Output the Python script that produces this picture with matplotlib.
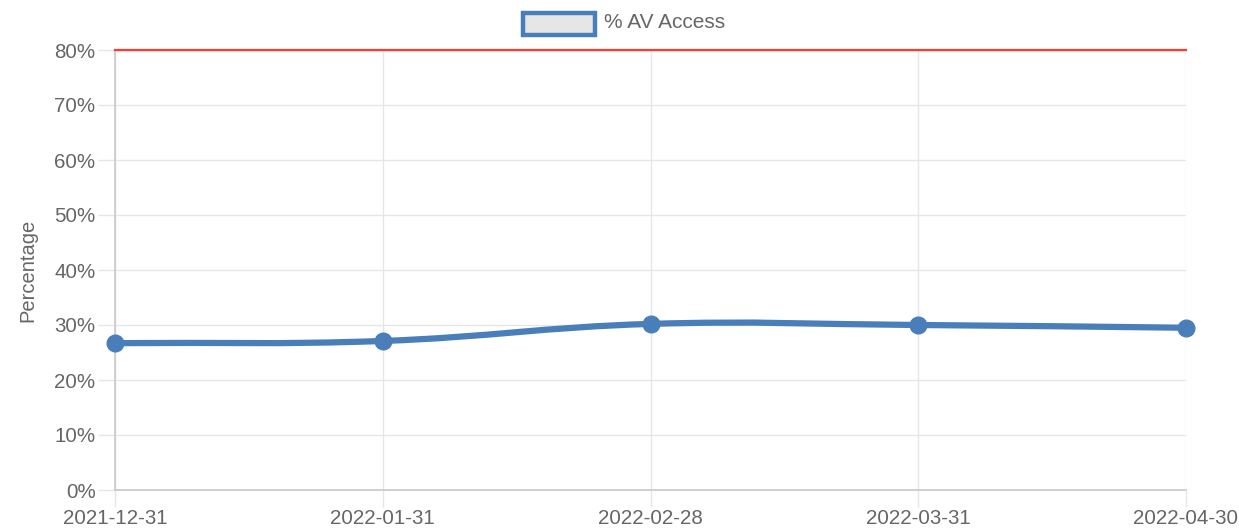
import matplotlib.pyplot as plt
from matplotlib.patches import Rectangle
from matplotlib.path import Path
from matplotlib.patches import PathPatch
import numpy as np

# data
dates = ["2021-12-31", "2022-01-31", "2022-02-28", "2022-03-31", "2022-04-30"]
av_access = [26.7, 27.1, 30.2, 30.0, 29.5]
target = 80
yticks = [0, 10, 20, 30, 40, 50, 60, 70, 80]

blue = "#4a7ebb"
grey_txt = "#666666"

plt.rcParams["font.family"] = ["Liberation Sans", "DejaVu Sans"]

W, H = 1239, 530
fig = plt.figure(figsize=(W / 100, H / 100), dpi=100)
ax = fig.add_axes([115 / W, 1 - 490 / H, (1186 - 115) / W, (490 - 50) / H])

x = np.arange(len(dates))
ax.set_xlim(0, len(dates) - 1)
ax.set_ylim(0, 80)

# smooth line like chart.js (tension 0.4), control points computed in pixel scale
sx = (1186 - 115) / (len(dates) - 1)
sy = (490 - 50) / 80
px = x * sx
py = np.array(av_access) * sy
t = 0.4
cps = []
for i in range(len(px)):
    prev = i - 1 if i > 0 else i
    nxt = i + 1 if i < len(px) - 1 else i
    d01 = np.hypot(px[i] - px[prev], py[i] - py[prev])
    d12 = np.hypot(px[nxt] - px[i], py[nxt] - py[i])
    s01 = d01 / (d01 + d12) if d01 + d12 else 0
    s12 = d12 / (d01 + d12) if d01 + d12 else 0
    dx, dy = px[nxt] - px[prev], py[nxt] - py[prev]
    cps.append(((px[i] - t * s01 * dx, py[i] - t * s01 * dy),
                (px[i] + t * s12 * dx, py[i] + t * s12 * dy)))
verts = [(px[0] / sx, py[0] / sy)]
codes = [Path.MOVETO]
for i in range(1, len(px)):
    a = cps[i - 1][1]
    b = cps[i][0]
    verts += [(a[0] / sx, a[1] / sy), (b[0] / sx, b[1] / sy), (px[i] / sx, py[i] / sy)]
    codes += [Path.CURVE4] * 3
ax.add_patch(PathPatch(Path(verts, codes), facecolor="none", edgecolor=blue,
                       lw=4.5, zorder=3, capstyle="round", joinstyle="round"))
ax.plot(x, av_access, "o", color=blue, markersize=12, zorder=4, clip_on=False)

# target line
ax.axhline(target, color="#ff3b30", lw=1.6, zorder=5, clip_on=False)

# grid and axes
ax.set_yticks(yticks)
ax.set_yticklabels([f"{v}%" for v in yticks])
ax.set_xticks(x)
ax.set_xticklabels(dates)
ax.grid(True, color="#e6e6e6", lw=1)
ax.set_axisbelow(True)
for s in ["top", "right"]:
    ax.spines[s].set_visible(False)
for s in ["left", "bottom"]:
    ax.spines[s].set_color("#c8c8c8")
    ax.spines[s].set_linewidth(1.2)
ax.tick_params(axis="both", colors="#e6e6e6", labelcolor=grey_txt, labelsize=14.8,
               length=12, width=1, pad=2)
ax.set_ylabel("Percentage", color=grey_txt, fontsize=14.5, labelpad=12)

# legend
fig.patches.append(Rectangle((523 / W, 1 - 35 / H), 72 / W, 22 / H, transform=fig.transFigure,
                             facecolor="#e6e6e6", edgecolor=blue, lw=3.2))
fig.text(604 / W, 1 - 23 / H, "% AV Access", color=grey_txt, fontsize=15, va="center")

fig.savefig("out.png", dpi=100, facecolor="white")
